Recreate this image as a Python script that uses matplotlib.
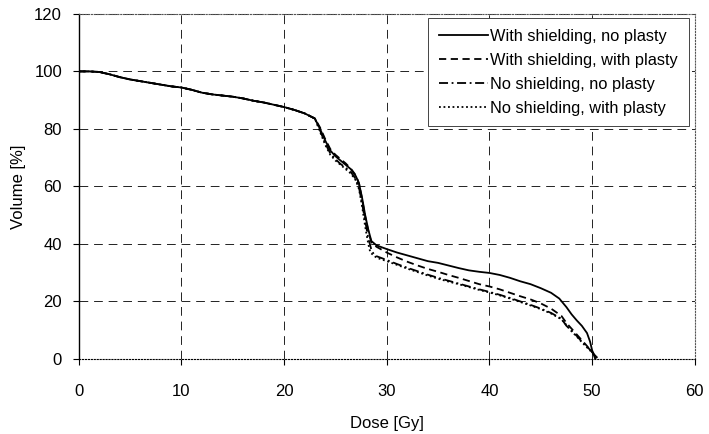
import numpy as np
import matplotlib.pyplot as plt

plt.rcParams['font.family'] = ['Liberation Sans', 'DejaVu Sans']

# shared head of the curves (0-23 Gy)
head_dose = [0, 1, 2, 3, 4, 5, 6, 7, 8, 9, 10, 11, 12, 13, 14, 15, 16, 17, 18,
             19, 20, 21, 22, 23]
head_vol = [100, 100, 99.8, 99, 98, 97.2, 96.6, 96, 95.4, 94.8, 94.4, 93.6, 92.6,
            92, 91.6, 91.2, 90.6, 89.8, 89.2, 88.4, 87.6, 86.6, 85.4, 83.6]

# with shielding, no plasty (solid)
ws_np_dose = [23.5, 24, 24.5, 25, 25.5, 26, 26.5, 27, 27.3, 27.6, 27.9, 28.2, 28.5,
              29, 30, 31, 32, 33, 34, 35, 36, 37, 38, 39, 40, 41, 42, 43, 44, 45,
              46, 46.8, 47.5, 48, 48.5, 49, 49.5, 49.8, 50, 50.3]
ws_np_vol = [80, 76, 72.5, 70.5, 69, 67.5, 66, 63.5, 61, 56, 50, 45, 41,
             39.5, 38.2, 37, 36, 35, 34, 33.4, 32.5, 31.6, 30.8, 30.3, 29.9, 29.2,
             28.2, 27, 26, 24.6, 23, 21, 18, 15.5, 13.4, 11.5, 9, 6, 3, 0]

# with shielding, with plasty (dashed)
ws_wp_dose = [23.5, 24, 24.5, 25, 25.5, 26, 26.5, 27, 27.3, 27.6, 27.9, 28.2, 28.5,
              29, 30, 31, 32, 33, 34, 35, 36, 37, 38, 39, 40, 41, 42, 43, 44, 45,
              46, 47, 47.5, 48, 48.5, 49, 49.5, 50, 50.6]
ws_wp_vol = [80.5, 76.5, 73, 71, 69.5, 68, 66.2, 63.8, 61, 55.5, 49.5, 44.5, 40.5,
             39, 37, 35.3, 33.8, 32.5, 31.3, 30.3, 29.2, 28.2, 27.1, 26, 25.2, 24.2,
             23, 21.8, 20.7, 19.3, 17.5, 15, 12.5, 10.5, 8.5, 6.5, 4.5, 2.3, 0]

# no shielding, no plasty (dash-dot)
ns_np_dose = [23.5, 24, 24.5, 25, 25.5, 26, 26.5, 27, 27.3, 27.6, 27.9, 28.2, 28.5,
              28.8, 30, 31, 32, 33, 34, 35, 36, 37, 38, 39, 40, 41, 42, 43, 44, 45,
              46, 47, 47.5, 48, 48.5, 49, 49.5, 50, 50.6]
ns_np_vol = [79.5, 75, 71.5, 69.5, 67.8, 66.5, 65, 62.5, 59.5, 54, 48, 42, 38,
             36, 34.4, 33, 31.7, 30.5, 29.3, 28.2, 27.2, 26.2, 25.2, 24.2, 23.3,
             22.3, 21.2, 20, 18.8, 17.5, 16, 14, 11.5, 9.8, 8, 6, 4.2, 2.5, 0]

# no shielding, with plasty (dotted)
ns_wp_dose = [23.5, 24, 24.5, 25, 25.5, 26, 26.5, 27, 27.3, 27.6, 27.9, 28.2, 28.4,
              29, 30, 31, 32, 33, 34, 35, 36, 37, 38, 39, 40, 41, 42, 43, 44, 45,
              46, 47, 47.5, 48, 48.5, 49, 49.5, 50, 50.5]
ns_wp_vol = [79, 74.5, 71, 69, 67.5, 66, 64.5, 62, 59, 53, 46, 40, 37,
             35.2, 34, 32.7, 31.4, 30.2, 29, 27.9, 26.9, 26, 25, 24, 23.1, 22.1,
             21, 19.8, 18.6, 17.3, 15.8, 13.8, 11.8, 9.6, 7.8, 5.8, 4, 2.2, 0]

labels = ['With shielding, no plasty', 'With shielding, with plasty',
          'No shielding, no plasty', 'No shielding, with plasty']
series = [(ws_np_dose, ws_np_vol, '-'),
          (ws_wp_dose, ws_wp_vol, (0, (4, 2.5))),
          (ns_np_dose, ns_np_vol, (0, (5, 2, 1, 2))),
          (ns_wp_dose, ns_wp_vol, (0, (1, 1.5)))]

fig = plt.figure(figsize=(7.09, 4.34), dpi=100)
ax = fig.add_axes([0.111, 0.173, 0.869, 0.795])

for (d, v, ls), lab in zip(series, labels):
    ax.plot(head_dose + d, head_vol + v, color='black', lw=1.3, ls=ls, label=lab)

ax.set_xlim(0, 60)
ax.set_ylim(0, 120)
ax.set_xticks(np.arange(0, 61, 10))
ax.set_yticks(np.arange(0, 121, 20))
ax.grid(True, color='#222222', ls=(0, (9, 6)), lw=0.7)
ax.tick_params(direction='out', length=4, width=0.8, labelsize=12, colors='black')
ax.tick_params(axis='x', pad=14)
ax.tick_params(axis='y', pad=8)

for s in ['top', 'right']:
    ax.spines[s].set_linestyle(':')
    ax.spines[s].set_color('#555555')
ax.spines['bottom'].set_linestyle(':')
ax.spines['left'].set_linewidth(1.0)

ax.set_xlabel('Dose [Gy]', fontsize=12, labelpad=12)
ax.set_ylabel('Volume [%]', fontsize=12, labelpad=6)

leg = ax.legend(loc='upper right', bbox_to_anchor=(0.99, 0.988), fontsize=11.8,
                handlelength=3.0, handletextpad=0.15, labelspacing=0.55,
                borderpad=0.65, borderaxespad=0, fancybox=False, framealpha=1,
                edgecolor='#444444')
leg.get_frame().set_linewidth(0.7)

fig.savefig('out.png', dpi=100)
